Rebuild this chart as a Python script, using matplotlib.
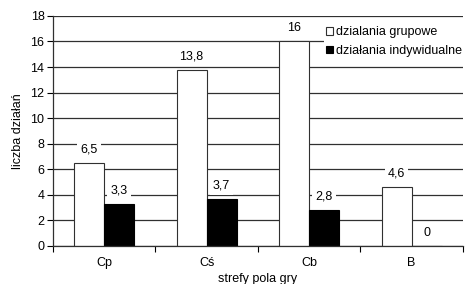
import numpy as np
import matplotlib.pyplot as plt

plt.rcParams['font.family'] = ['Liberation Sans', 'DejaVu Sans']

strefy = ['Cp', 'Cś', 'Cb', 'B']
grupowe = [6.5, 13.8, 16, 4.6]
indywidualne = [3.3, 3.7, 2.8, 0]
etykiety_gr = ['6,5', '13,8', '16', '4,6']
etykiety_ind = ['3,3', '3,7', '2,8', '0']

fs = 9
fig = plt.figure(figsize=(4.68, 2.84), dpi=100)
ax = fig.add_axes([0.113, 0.134, 0.876, 0.810])

x = np.arange(len(strefy))
w = 0.293
ax.set_axisbelow(True)
ax.yaxis.grid(True, color='#303030', lw=0.9)
ax.bar(x - w/2, grupowe, w, color='white', edgecolor='#303030', lw=0.8,
       label='dzialania grupowe')
ax.bar(x + w/2, indywidualne, w, color='black', edgecolor='black', lw=0.8,
       label='działania indywidualne')

for xi, v, t in zip(x - w/2, grupowe, etykiety_gr):
    ax.annotate(t, (xi, v), xytext=(0, 9.5), textcoords='offset points',
                ha='center', va='center', fontsize=fs,
                bbox=dict(boxstyle='square,pad=0.25', fc='white', ec='none'))
for xi, v, t in zip(x + w/2, indywidualne, etykiety_ind):
    ax.annotate(t, (xi, v), xytext=(0, 9.5), textcoords='offset points',
                ha='center', va='center', fontsize=fs,
                bbox=dict(boxstyle='square,pad=0.25', fc='white', ec='none'))

ax.set_xlim(-0.5, len(strefy) - 0.5)
ax.set_ylim(0, 18)
ax.set_yticks(np.arange(0, 19, 2))
ax.set_xticks(x)
ax.set_xticklabels(strefy)
ax.set_xticks(np.arange(-0.5, len(strefy)), minor=True)
ax.tick_params(axis='x', which='major', length=0, labelsize=fs, pad=8)
ax.tick_params(axis='x', which='minor', length=4, width=0.8, direction='out')
ax.tick_params(axis='y', length=4, width=0.8, direction='out', labelsize=fs, pad=2)

for s in ['top', 'right']:
    ax.spines[s].set_visible(False)
ax.spines['left'].set_color('#303030')
ax.spines['bottom'].set_color('#303030')
ax.spines['left'].set_linewidth(0.9)
ax.spines['bottom'].set_linewidth(0.9)

ax.set_ylabel('liczba działań', fontsize=fs, labelpad=5)
ax.set_xlabel('strefy pola gry', fontsize=fs, labelpad=3)

ax.legend(loc='upper right', bbox_to_anchor=(1.005, 0.965), fontsize=fs,
          frameon=True, fancybox=False, edgecolor='none', framealpha=1,
          handlelength=0.5, handleheight=0.5, handletextpad=0.3,
          borderpad=0.2, labelspacing=0.55, borderaxespad=0)

plt.savefig('out.png', dpi=100)
